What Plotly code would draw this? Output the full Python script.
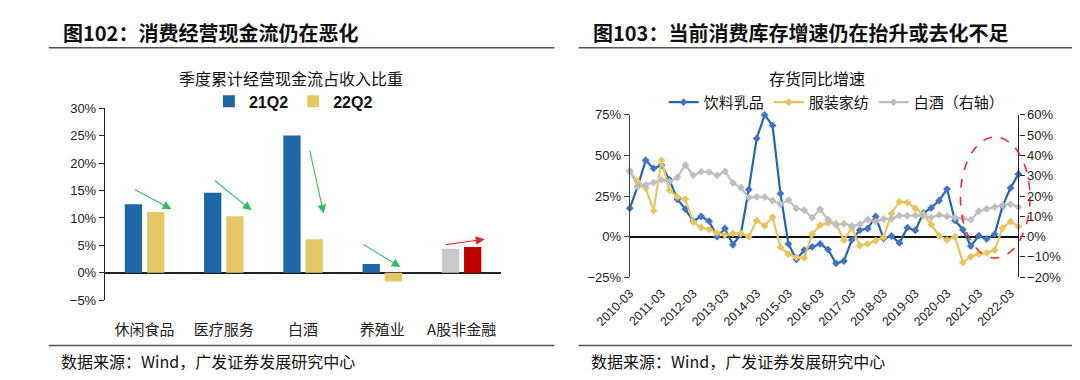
import plotly.graph_objects as go

W, H = 1080, 380


def px(x):
    return x / W


def py(y):
    return 1 - y / H


# ---------------- Left chart data ----------------
bar_categories = ["休闲食品", "医疗服务", "白酒", "养殖业", "A股非金融"]
cf_21q2 = [12.5, 14.6, 25.0, 1.6, 4.4]
cf_22q2 = [11.1, 10.3, 6.1, -1.6, 4.7]
colors_21q2 = ["#1F66A6", "#1F66A6", "#1F66A6", "#1F66A6", "#C9C9C9"]
colors_22q2 = ["#E5C766", "#E5C766", "#E5C766", "#E5C766", "#C00000"]

# ---------------- Right chart data ----------------
quarters = [f"{y}-{m:02d}" for y in range(2010, 2023) for m in (3, 6, 9, 12)][:50]
beverage_dairy = [17.5, 31, 47, 42, 44, 35, 23, 17, 9.5, 12.5, 9.5, 0, 5, -5, 1.5,
                  29, 60.5, 75, 68.5, 26.5, -4.5, -14, -8.3, -6.3, -4.5, -8, -16.5,
                  -15, -2, 4, 5, 12.4, -1.2, 0.4, -3.9, 5.5, 3.8, 14.4, 17.7, 22.2,
                  29.3, 10, 4.3, -5.8, 0.6, -1.4, 1.4, 18.8, 30, 38.5]
apparel_textile = [40, 34, 30, 16, 47, 28.5, 24.5, 23, 9, 5.5, 4.5, 2.3, 1, 2, 2, 0,
                   10, 6.7, 12, -6.5, -10.8, -12.7, -13, 1.6, 7, 8.5, 8, -2.2, 5.5,
                   -5.5, -4.5, -2.4, -0.4, 14.3, 21.5, 21, 17.5, 13.8, 7.5, 0.6, -2,
                   0, -16, -12.3, -10.6, -10, -8.3, 5.3, 9.2, 6.3]
baijiu_right = [32.5, 24.5, 25.5, 26.7, 28, 27, 29.2, 35.3, 30.2, 32, 31.8, 30.2, 32.2,
                26.5, 24.2, 19.2, 19.6, 19.5, 17.8, 16, 18, 13.9, 13, 9.3, 13.5, 8.4,
                5.8, 6.4, 5.3, 6, 8.4, 7.4, 8.7, 8.8, 10.4, 10.3, 10.5, 10.3, 9.5,
                10.7, 10, 9.4, 9, 8.3, 12.5, 13.7, 14.6, 15.6, 16, 14.6]
x_tick_labels = quarters[::4]

CJK = "Noto Sans CJK SC"
LAT = "Liberation Sans, Arial"

fig = go.Figure()

# ---- bars ----
fig.add_trace(go.Bar(x=bar_categories, y=cf_21q2, name="<b>21Q2</b>",
                     marker=dict(color=colors_21q2, line=dict(width=0)),
                     xaxis="x", yaxis="y", legend="legend"))
fig.add_trace(go.Bar(x=bar_categories, y=cf_22q2, name="<b>22Q2</b>",
                     marker=dict(color=colors_22q2, line=dict(width=0)),
                     xaxis="x", yaxis="y", legend="legend"))

# ---- lines ----
fig.add_trace(go.Scatter(x=quarters, y=beverage_dairy, name="饮料乳品", mode="lines+markers",
                         line=dict(color="#2167AE", width=2.2),
                         marker=dict(symbol="diamond", size=6, color="#4472C4"),
                         xaxis="x2", yaxis="y2", legend="legend2", cliponaxis=False))
fig.add_trace(go.Scatter(x=quarters, y=apparel_textile, name="服装家纺", mode="lines+markers",
                         line=dict(color="#E8C55E", width=2.2),
                         marker=dict(symbol="diamond", size=6, color="#E8C55E"),
                         xaxis="x2", yaxis="y2", legend="legend2", cliponaxis=False))
fig.add_trace(go.Scatter(x=quarters, y=baijiu_right, name="白酒（右轴）", mode="lines+markers",
                         line=dict(color="#BFBFBF", width=2.2),
                         marker=dict(symbol="diamond", size=6, color="#BFBFBF"),
                         xaxis="x2", yaxis="y3", legend="legend2", cliponaxis=False))

axis_font = dict(family=LAT, size=13, color="#222")

fig.update_layout(
    width=W, height=H,
    margin=dict(l=0, r=0, t=0, b=0),
    paper_bgcolor="white", plot_bgcolor="white",
    barmode="group", bargap=0.44, bargroupgap=0.22,
    font=dict(family=CJK, color="#222"),
    xaxis=dict(domain=[px(63), px(473)], anchor="y", type="category",
               showline=False, showgrid=False, zeroline=False,
               ticks="outside", ticklen=16, tickcolor="rgba(0,0,0,0)",
               tickfont=dict(family=CJK, size=15, color="#222")),
    yaxis=dict(domain=[py(297), py(97)], anchor="x", range=[-5, 30], dtick=5,
               ticksuffix="%", showgrid=False, showline=True, linecolor="#222",
               linewidth=1.2, ticks="outside", ticklen=5, tickcolor="#222",
               zeroline=True, zerolinecolor="#222", zerolinewidth=1.5,
               tickfont=axis_font),
    xaxis2=dict(domain=[px(606), px(1008)], anchor="y2", type="category",
                range=[0, 49], tickmode="array", tickvals=x_tick_labels,
                ticktext=x_tick_labels, tickangle=-45,
                showline=False, showgrid=False, zeroline=False,
                ticks="outside", ticklen=3, tickcolor="rgba(0,0,0,0)",
                tickfont=dict(family=LAT, size=12.5, color="#222")),
    yaxis2=dict(domain=[py(273), py(104)], anchor="x2", range=[-25, 75], dtick=25,
                ticksuffix="%", showgrid=False, showline=True, linecolor="#444",
                linewidth=1.2, ticks="outside", ticklen=5, tickcolor="#444",
                zeroline=True, zerolinecolor="#111", zerolinewidth=1.5,
                tickfont=axis_font),
    yaxis3=dict(overlaying="y2", anchor="x2", side="right", range=[-20, 60], dtick=10,
                ticksuffix="%", showgrid=False, showline=True, linecolor="#222",
                linewidth=1.2, ticks="outside", ticklen=5, tickcolor="#222",
                zeroline=False, tickfont=axis_font),
    legend=dict(orientation="h", x=px(258), y=py(90), xanchor="center", yanchor="middle",
                font=dict(family=LAT, size=16, color="#111"), itemwidth=30,
                bgcolor="rgba(0,0,0,0)", traceorder="normal"),
    legend2=dict(orientation="h", x=px(820), y=py(91), xanchor="center", yanchor="middle",
                 font=dict(family=CJK, size=15, color="#111"), itemwidth=30,
                 bgcolor="rgba(0,0,0,0)", traceorder="normal"),
    showlegend=True,
)

# ---- titles, subtitles, footers ----
texts = [
    ("图102：消费经营现金流仍在恶化", 18, 18, 20, "left", True),
    ("图103：当前消费库存增速仍在抬升或去化不足", 566, 18, 20, "left", True),
    ("季度累计经营现金流占收入比重", 256, 66, 16, "center", False),
    ("存货同比增速", 800, 66, 16, "center", False),
    ("数据来源：Wind，广发证券发展研究中心", 15, 360, 16, "left", False),
    ("数据来源：Wind，广发证券发展研究中心", 564, 360, 16, "left", False),
]
for t, x, y, s, anc, bold in texts:
    fig.add_annotation(text=(f"<b>{t}</b>" if bold else t), x=px(x), y=py(y),
                       xref="paper", yref="paper", xanchor=anc, yanchor="middle",
                       showarrow=False, font=dict(family=CJK, size=s, color="#111"))

# ---- separator lines ----
for x0, x1, y in [(5, 528, 34), (553, 1075, 34), (5, 528, 344), (553, 1075, 344)]:
    fig.add_shape(type="line", xref="paper", yref="paper", x0=px(x0), x1=px(x1),
                  y0=py(y), y1=py(y), line=dict(color="#555", width=1.5))

# ---- arrows on bar chart (category position, value) ----
arrows = [
    ((-0.14, 15.3), (0.34, 11.6), "#2DBE60"),
    ((0.87, 17.0), (1.35, 11.4), "#2DBE60"),
    ((2.08, 22.6), (2.26, 10.8), "#2DBE60"),
    ((2.74, 5.35), (3.23, 1.05), "#2DBE60"),
    ((3.78, 5.07), (4.29, 6.12), "#E02020"),
]
for (tx, ty), (hx, hy), c in arrows:
    fig.add_annotation(x=hx, y=hy, ax=tx, ay=ty, xref="x", yref="y", axref="x", ayref="y",
                       showarrow=True, arrowhead=2, arrowsize=1.6, arrowwidth=1.1,
                       arrowcolor=c, text="")

# ---- red dashed ellipse ----
fig.add_shape(type="circle", xref="paper", yref="paper", x0=px(948), x1=px(1020),
              y0=py(253), y1=py(127), line=dict(color="#FF2020", width=1.5, dash="dash"))

fig.write_html("out.html")
